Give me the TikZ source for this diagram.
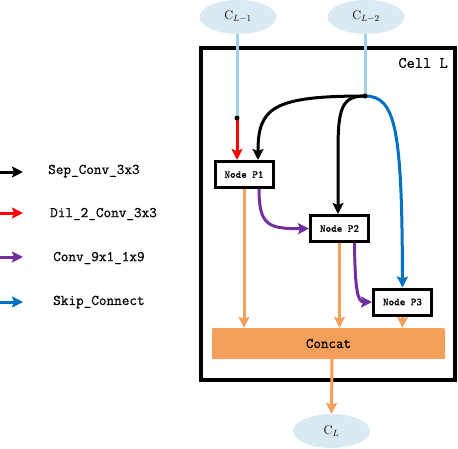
\documentclass[tikz,border=0pt]{standalone}
\usepackage{fontspec}
\setmonofont{Latin Modern Mono}[FakeBold=0.8]
\usetikzlibrary{arrows.meta,shapes.geometric}
\definecolor{cblue}{RGB}{0,112,192}
\definecolor{cpurple}{RGB}{112,48,160}
\definecolor{corange}{RGB}{244,160,90}
\definecolor{cfill}{RGB}{218,234,242}
\definecolor{cline}{RGB}{160,212,228}
\begin{document}
\begin{tikzpicture}[x=1pt,y=-1pt,
  inp/.style={ellipse, fill=cfill, minimum width=77pt, minimum height=34pt, inner sep=0pt, font=\fontsize{12.5}{13}\selectfont},
  opnode/.style={draw=black, line width=3pt, fill=white, minimum width=58pt, minimum height=26pt, inner sep=0pt, font=\ttfamily\fontsize{10.6}{11}\selectfont},
  con/.style={line width=3pt, -{Stealth[length=11pt,width=11pt,inset=2pt]}},
  feed/.style={line width=3pt, draw=cline},
  legtext/.style={anchor=west, inner sep=0pt, font=\ttfamily\fontsize{14.8}{16}\selectfont},
]
\useasboundingbox (0,0) rectangle (458,448);

% cell box
\draw[line width=4pt] (201,48) rectangle (455,380);
\node[anchor=east, inner sep=0pt, font=\ttfamily\fontsize{16}{17}\selectfont] (celllabel) at (448,63) {Cell L};

% inputs / output
\node[inp] (c1) at (238,17) {C$_{L-1}$};
\node[inp] (c2) at (366,17) {C$_{L-2}$};
\node[inp] (out) at (331.5,431) {C$_{L}$};

% op nodes
\node[opnode] (p1) at (244,174.5) {Node P1};
\node[opnode] (p2) at (339.5,228.5) {Node P2};
\node[opnode] (p3) at (402.5,302) {Node P3};
\node[fill=corange, rounded corners=1pt, minimum width=233pt, minimum height=31pt, inner sep=0pt, font=\ttfamily\fontsize{14.6}{15}\selectfont] (concat) at (328.5,343.5) {Concat};

% feeds
\coordinate (d1) at (237,118);
\coordinate (hub) at (365,96);
\draw[feed] (c1.south -| d1) -- (d1);
\draw[feed] (c2.south -| hub) -- (hub);

% red
\draw[con, red] (d1) -- (d1 |- p1.north);
\fill (d1) circle (2.5pt);

% black
\draw[con, black] (hub) .. controls (272,96) and (258,108) .. ([xshift=14pt]p1.north);
\draw[con, black] (hub) .. controls (342,96) and (338,108) .. (338,150) -- ([xshift=-1.5pt]p2.north);
% blue
\draw[con, cblue] (hub) .. controls (396,96) and (402,130) .. (p3.north);
\fill (hub) circle (2.5pt);

% purple
\draw[con, cpurple] ([xshift=15pt]p1.south) .. controls (259,225) and (268,229) .. (p2.west);
\draw[con, cpurple] ([xshift=15pt]p2.south) .. controls (355,292) and (358,302) .. (p3.west);

% orange
\draw[con, corange] (p1.south) -- (p1.south |- concat.north);
\draw[con, corange] (p2.south) -- (p2.south |- concat.north);
\draw[con, corange] (p3.south) -- (p3.south |- concat.north);
\draw[con, corange] ([xshift=3.5pt]concat.south) -- (out.north);

% legend
\coordinate (ls1) at (0,172);  \coordinate (le1) at (23,172);
\coordinate (ls2) at (0,213);  \coordinate (le2) at (23,213);
\coordinate (ls3) at (0,257);  \coordinate (le3) at (23,257);
\coordinate (ls4) at (0,302);  \coordinate (le4) at (23,302);
\draw[con, black] (ls1) -- (le1);
\draw[con, red] (ls2) -- (le2);
\draw[con, cpurple] (ls3) -- (le3);
\draw[con, cblue] (ls4) -- (le4);
\node[legtext] (t1) at (48,171) {Sep\_Conv\_3x3};
\node[legtext] (t2) at (50,214) {Dil\_2\_Conv\_3x3};
\node[legtext] (t3) at (53,258) {Conv\_9x1\_1x9};
\node[legtext] (t4) at (53,302) {Skip\_Connect};
\end{tikzpicture}
\end{document}
